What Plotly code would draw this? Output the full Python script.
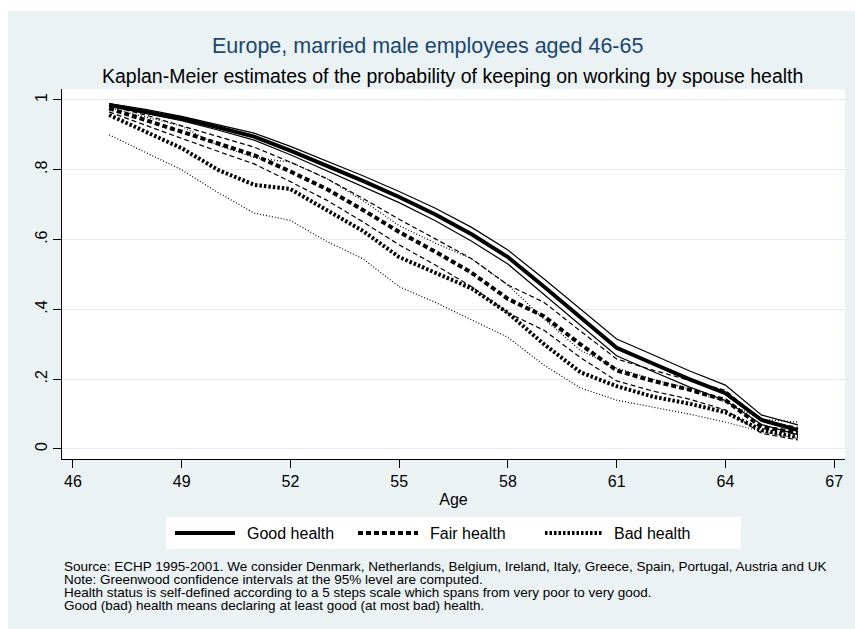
import plotly.graph_objects as go

# Kaplan-Meier survival in employment, married male employees aged 46-65,
# by spouse health, with Greenwood 95% confidence bands.
ages = list(range(47, 67))

good = [0.986, 0.967, 0.947, 0.922, 0.895, 0.855, 0.812, 0.768, 0.722, 0.672,
        0.615, 0.550, 0.465, 0.378, 0.290, 0.245, 0.200, 0.160, 0.083, 0.054]
good_hi = [0.990, 0.973, 0.953, 0.930, 0.905, 0.867, 0.826, 0.783, 0.738, 0.690,
           0.635, 0.570, 0.487, 0.401, 0.315, 0.270, 0.224, 0.183, 0.097, 0.069]
good_lo = [0.982, 0.961, 0.941, 0.914, 0.885, 0.843, 0.798, 0.753, 0.706, 0.654,
           0.595, 0.530, 0.443, 0.355, 0.267, 0.222, 0.178, 0.139, 0.070, 0.041]

fair = [0.976, 0.943, 0.909, 0.875, 0.842, 0.795, 0.745, 0.685, 0.622, 0.565,
        0.505, 0.430, 0.380, 0.300, 0.225, 0.195, 0.170, 0.140, 0.063, 0.046]
fair_hi = [0.984, 0.957, 0.926, 0.895, 0.865, 0.822, 0.775, 0.718, 0.658, 0.602,
           0.545, 0.470, 0.420, 0.338, 0.258, 0.226, 0.198, 0.168, 0.082, 0.062]
fair_lo = [0.966, 0.927, 0.890, 0.853, 0.817, 0.766, 0.713, 0.651, 0.585, 0.527,
           0.465, 0.390, 0.340, 0.262, 0.195, 0.166, 0.143, 0.112, 0.045, 0.026]

bad = [0.957, 0.910, 0.862, 0.800, 0.757, 0.745, 0.685, 0.625, 0.550, 0.505,
       0.460, 0.390, 0.300, 0.220, 0.180, 0.150, 0.130, 0.105, 0.054, 0.034]
bad_hi = [0.978, 0.952, 0.925, 0.870, 0.835, 0.822, 0.775, 0.712, 0.640, 0.590,
          0.545, 0.470, 0.372, 0.283, 0.232, 0.200, 0.172, 0.135, 0.085, 0.077]
bad_lo = [0.900, 0.850, 0.800, 0.735, 0.676, 0.655, 0.595, 0.545, 0.465, 0.420,
          0.370, 0.320, 0.240, 0.175, 0.140, 0.120, 0.100, 0.077, 0.050, 0.030]

x_ticks = [46, 49, 52, 55, 58, 61, 64, 67]
y_ticks = [0, 0.2, 0.4, 0.6, 0.8, 1]
y_tick_text = ["0", ".2", ".4", ".6", ".8", "1"]

groups = [
    ("Good health", good, good_lo, good_hi, "solid", "solid"),
    ("Fair health", fair, fair_lo, fair_hi, "5px,3px", "5px,3px"),
    ("Bad health", bad, bad_lo, bad_hi, "2.5px,2px", "1px,2px"),
]

FONT = "Liberation Sans, Arial, sans-serif"
BG = "#EAF2F3"
INK = "black"

fig = go.Figure()

# confidence bands first (thin), then the estimates (thick) on top
for name, est, lo, hi, thick_dash, thin_dash in groups:
    for band in (hi, lo):
        fig.add_trace(go.Scatter(x=ages, y=band, mode="lines", showlegend=False,
                                 hoverinfo="skip",
                                 line=dict(color=INK, width=1.2, dash=thin_dash)))
for name, est, lo, hi, thick_dash, thin_dash in groups:
    fig.add_trace(go.Scatter(x=ages, y=est, mode="lines", name=name, showlegend=False,
                             line=dict(color=INK, width=4, dash=thick_dash)))

W, H = 855, 629
L, R, T, B = 62, 10, 89, 170
pw, ph = W - L - R, H - T - B


def px(xp):
    return (xp - L) / pw


def py(yp):
    return (H - B - yp) / ph


shapes = [
    # white outer frame strips around the tinted graph region
    dict(type="rect", xref="paper", yref="paper", x0=px(0), x1=px(8), y0=py(H), y1=py(0),
         fillcolor="white", line_width=0, layer="below"),
    dict(type="rect", xref="paper", yref="paper", x0=px(0), x1=px(W), y0=py(11), y1=py(0),
         fillcolor="white", line_width=0, layer="below"),
    # legend box
    dict(type="rect", xref="paper", yref="paper", x0=px(166), x1=px(741), y0=py(549), y1=py(517),
         fillcolor="white", line_width=0, layer="below"),
]

annotations = []
legend_x = [(175, 235, 245), (358, 418, 428), (545, 602, 612)]
for (name, est, lo, hi, thick_dash, thin_dash), (x0, x1, tx) in zip(groups, legend_x):
    shapes.append(dict(type="line", xref="paper", yref="paper", x0=px(x0), x1=px(x1),
                       y0=py(533), y1=py(533),
                       line=dict(color=INK, width=4, dash=thick_dash)))
    annotations.append(dict(xref="paper", yref="paper", x=px(tx), y=py(533), text=name,
                            showarrow=False, xanchor="left", yanchor="middle",
                            font=dict(family=FONT, size=16, color=INK)))

annotations.append(dict(xref="paper", yref="paper", x=px(427), y=py(46),
                        text="Europe, married male employees aged 46-65", showarrow=False,
                        xanchor="center", yanchor="middle",
                        font=dict(family=FONT, size=21.5, color="#1A476F")))
annotations.append(dict(xref="paper", yref="paper", x=px(452), y=py(76),
                        text="Kaplan-Meier estimates of the probability of keeping on working by spouse health",
                        showarrow=False, xanchor="center", yanchor="middle",
                        font=dict(family=FONT, size=19.5, color=INK)))

notes = [
    "Source: ECHP 1995-2001. We consider Denmark, Netherlands, Belgium, Ireland, Italy, Greece, Spain, Portugal, Austria and UK",
    "Note: Greenwood confidence intervals at the 95% level are computed.",
    "Health status is self-defined according to a 5 steps scale which spans from very poor to very good.",
    "Good (bad) health means declaring at least good (at most bad) health.",
]
for line, yy in zip(notes, [566, 579, 592, 605]):
    annotations.append(dict(xref="paper", yref="paper", x=px(62), y=py(yy), text=line,
                            showarrow=False, xanchor="left", yanchor="middle",
                            font=dict(family=FONT, size=13.5, color=INK)))

fig.update_layout(
    width=W, height=H,
    margin=dict(l=L, r=R, t=T, b=B),
    paper_bgcolor=BG, plot_bgcolor="white",
    showlegend=False,
    shapes=shapes, annotations=annotations,
    xaxis=dict(range=[45.70, 67.30], tickvals=x_ticks, ticks="outside", ticklen=8,
               tickcolor=INK, showline=True, linecolor=INK, linewidth=1, showgrid=False,
               zeroline=False, tickfont=dict(family=FONT, size=16, color=INK),
               title=dict(text="Age", font=dict(family=FONT, size=16, color=INK), standoff=4)),
    yaxis=dict(range=[-0.0287, 1.0315], tickvals=y_ticks, ticktext=y_tick_text,
               ticks="outside", ticklen=8, tickcolor=INK, showline=True, linecolor=INK,
               linewidth=1, showgrid=True, gridcolor="#E3EDEF", gridwidth=1, zeroline=False,
               tickangle=-90, tickfont=dict(family=FONT, size=16, color=INK)),
)

fig.write_html("out.html")
